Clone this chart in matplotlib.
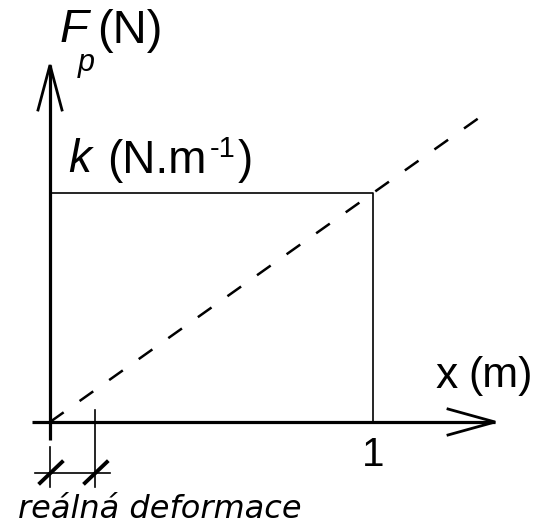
import matplotlib
matplotlib.use("Agg")
import matplotlib.pyplot as plt
import numpy as np

# ---- data ----
x_ticks = [1]
x_tick_labels = ["1"]
k_value = 1.0                 # force at x = 1 m
line_x = [0.0, 1.33]          # dashed linear spring line F = k x
line_y = [0.0, 1.33]
real_deformation = 0.139      # small real deformation range
deform_label = "reálná deformace"

plt.rcParams['font.family'] = ['Liberation Sans', 'DejaVu Sans']

W, H = 541, 527
fig = plt.figure(figsize=(W / 100, H / 100), dpi=100)
ax = fig.add_axes([0, 0, 1, 1])
sx, sy = 323.0, 229.0   # px per unit
ox, oy = 50.0, 422.0    # origin in px
ax.set_xlim(-ox / sx, (W - ox) / sx)
ax.set_ylim(-(H - oy) / sy, oy / sy)
ax.axis('off')

def X(p):   # pixel x -> data
    return (p - ox) / sx
def Y(p):   # pixel y -> data
    return (oy - p) / sy

axis_lw = 2.3
# x axis
x_end = X(495)
ax.plot([X(32), x_end], [0, 0], color='black', lw=axis_lw, solid_capstyle='butt')
ax.plot([X(448), x_end, X(448)], [Y(409), 0, Y(435)], color='black', lw=2.0,
        solid_joinstyle='miter')
# y axis
y_end = Y(65)
ax.plot([0, 0], [Y(440), y_end], color='black', lw=axis_lw, solid_capstyle='butt')
ax.plot([X(38), 0, X(62)], [Y(110), y_end, Y(110)], color='black', lw=2.0,
        solid_joinstyle='miter')

# rectangle
ax.plot([0, x_ticks[0], x_ticks[0]], [k_value, k_value, 0], color='black', lw=1.2)

# dashed line
ax.plot(line_x, line_y, color='black', lw=1.8, dashes=(6.7, 7.8))

# tick label
ax.text(x_ticks[0], Y(436), x_tick_labels[0], ha='center', va='top', fontsize=29)

# x label
ax.text(X(436), Y(377), "x", ha='left', va='center', fontsize=32)
ax.text(X(468), Y(376), "(m)", ha='left', va='center', fontsize=31)

# y label F_p(N)
ax.text(X(60), Y(30), "F", ha='left', va='center', fontsize=34, style='italic')
ax.text(X(78), Y(63), "p", ha='left', va='center', fontsize=22, style='italic')
ax.text(X(97), Y(31), "(N)", ha='left', va='center', fontsize=34)

# k label
ax.text(X(68), Y(160), "k", ha='left', va='center', fontsize=33, style='italic')
ax.text(X(107), Y(161), "(N.m", ha='left', va='center', fontsize=33)
ax.text(X(210), Y(149), "-1", ha='left', va='center', fontsize=21)
ax.text(X(238), Y(161), ")", ha='left', va='center', fontsize=33)

# dimension for real deformation
rd = real_deformation
ax.plot([0, 0], [Y(447), Y(487)], color='black', lw=1.2)
ax.plot([rd, rd], [Y(410), Y(487)], color='black', lw=1.2)
ax.plot([X(35), X(110)], [Y(473), Y(473)], color='black', lw=1.2)
for xx in [0, rd]:
    ax.plot([xx - (10 / sx), xx + (12 / sx)], [Y(483), Y(462)], color='black', lw=2.8)
ax.text(X(18), Y(510), deform_label, ha='left', va='center', fontsize=23,
        style='oblique', fontweight='medium', family=['DejaVu Sans'])

fig.savefig("out.png", dpi=100)
